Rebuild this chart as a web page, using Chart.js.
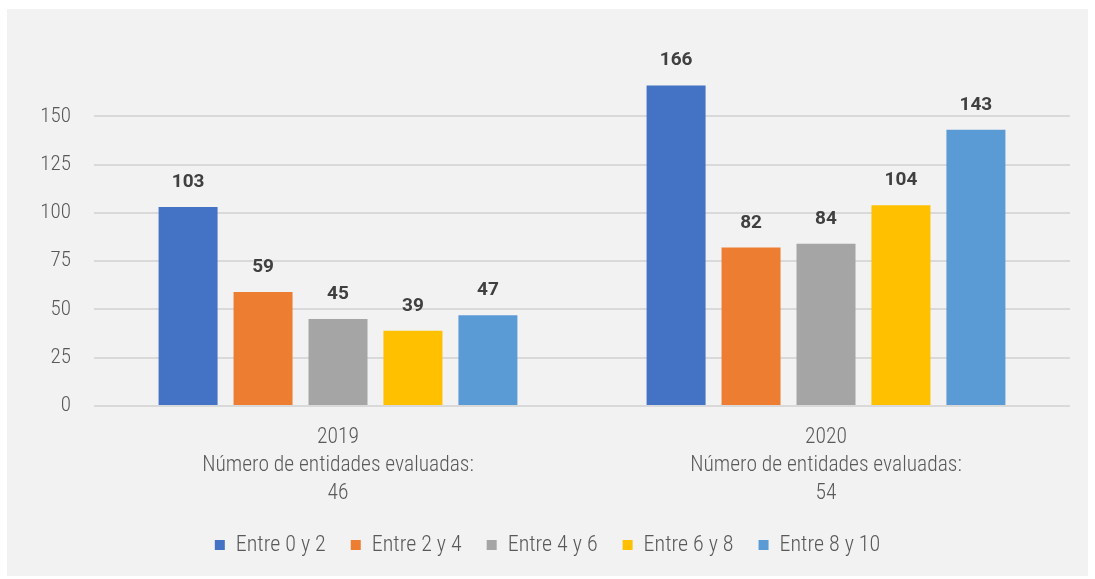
<!DOCTYPE html>
<html>
<head>
<meta charset="utf-8">
<script src="https://cdn.jsdelivr.net/npm/chart.js@4.4.1/dist/chart.umd.min.js"></script>
<style>
  html, body { margin: 0; padding: 0; background: #ffffff; }
  #wrap { position: absolute; left: 7px; top: 9px; width: 1081px; height: 567px; background: #f2f2f2; }
</style>
</head>
<body>
<div id="wrap"><canvas id="chart" width="1081" height="567"></canvas></div>
<script>
const categories = [
  ['2019', 'Número de entidades evaluadas:', '46'],
  ['2020', 'Número de entidades evaluadas:', '54']
];
const seriesNames = ['Entre 0 y 2', 'Entre 2 y 4', 'Entre 4 y 6', 'Entre 6 y 8', 'Entre 8 y 10'];
const entre0y2 = [103, 166];
const entre2y4 = [59, 82];
const entre4y6 = [45, 84];
const entre6y8 = [39, 104];
const entre8y10 = [47, 143];
const colors = ['#4472c4', '#ed7d31', '#a5a5a5', '#ffc000', '#5b9bd5'];

const FONT = '"Liberation Sans Narrow", "Roboto Condensed", Roboto, sans-serif';
const BOLD_FONT = 'Roboto, "Open Sans", sans-serif';

// draws the value above each bar
const valueLabels = {
  id: 'valueLabels',
  afterDatasetsDraw(chart) {
    const ctx = chart.ctx;
    ctx.save();
    ctx.font = 'bold 19px ' + BOLD_FONT;
    ctx.fillStyle = '#404040';
    ctx.textAlign = 'center';
    ctx.textBaseline = 'alphabetic';
    chart.data.datasets.forEach((ds, i) => {
      chart.getDatasetMeta(i).data.forEach((bar, j) => {
        ctx.fillText(ds.data[j], bar.x, bar.y - 20);
      });
    });
    ctx.restore();
  }
};

// center the legend on the whole canvas, not the padded area
const centerLegend = {
  id: 'centerLegend',
  afterLayout(chart) {
    chart.legend.left += 9;
    chart.legend.right += 9;
  }
};

const allSeries = [entre0y2, entre2y4, entre4y6, entre6y8, entre8y10];

new Chart(document.getElementById('chart'), {
  type: 'bar',
  data: {
    labels: categories,
    datasets: allSeries.map((vals, i) => ({
      label: seriesNames[i],
      data: vals,
      backgroundColor: colors[i],
      borderWidth: 0,
      categoryPercentage: 0.768,
      barPercentage: 0.787
    }))
  },
  options: {
    responsive: false,
    animation: false,
    layout: { padding: { left: 0, right: 18, top: 59, bottom: 10 } },
    scales: {
      x: {
        afterFit(scale) { scale.height = 103; },
        grid: { display: false },
        border: { display: false },
        ticks: {
          color: '#595959',
          font: { family: FONT, size: 21.5, weight: 300, lineHeight: 1.3 },
          padding: 10
        }
      },
      y: {
        min: 0,
        max: 175,
        afterFit(scale) { scale.width = 87; },
        border: { display: false },
        grid: {
          color: (c) => c.tick && c.tick.value > 150 ? 'rgba(0,0,0,0)' : '#d9d9d9',
          lineWidth: 2,
          drawTicks: false
        },
        ticks: {
          stepSize: 25,
          color: '#595959',
          padding: 23,
          font: { family: FONT, size: 21, weight: 300 },
          callback: (v) => v > 150 ? '' : v
        }
      }
    },
    plugins: {
      legend: {
        position: 'bottom',
        labels: {
          color: '#595959',
          font: { family: FONT, size: 22, weight: 300 },
          boxWidth: 10,
          boxHeight: 10,
          padding: 25
        }
      },
      tooltip: { enabled: false }
    }
  },
  plugins: [valueLabels, centerLegend]
});
</script>
</body>
</html>
